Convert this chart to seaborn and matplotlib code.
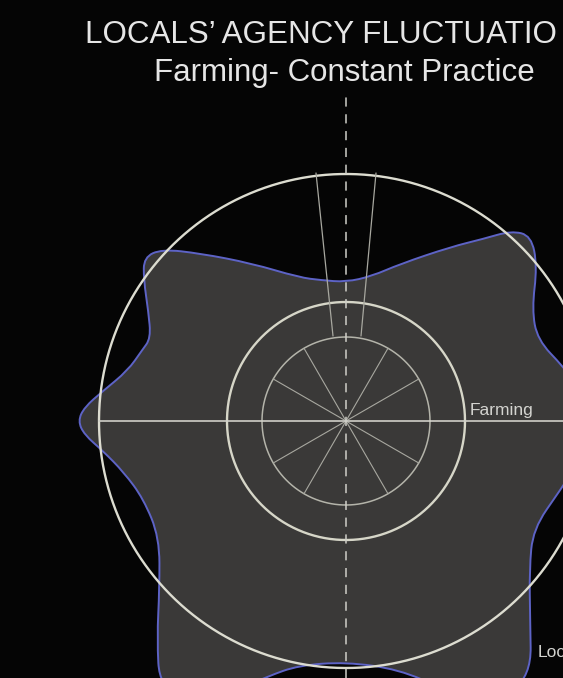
import numpy as np
import pandas as pd
import seaborn as sns
import matplotlib.pyplot as plt
from matplotlib.path import Path
from matplotlib.patches import PathPatch

# ---- data (radius in px from the centre, angle in deg) ----
blob_angle = [0, 8, 14, 23, 31, 39, 45, 49, 53, 59, 71, 80, 90, 100, 108, 121, 131,
              137, 141, 145, 151, 157, 161, 167, 173, 177, 180, 183, 187, 193, 201,
              212, 222, 229, 235, 242, 248, 253, 259, 270, 282, 290, 298, 306, 313,
              321, 330, 342, 352]
blob_radius = [250, 236, 224, 208, 217, 246, 262, 252, 228, 203, 166, 147, 139, 143, 151,
               184, 222, 252, 260, 247, 226, 212, 216, 224, 245, 262, 268, 262, 245, 228,
               217, 220, 251, 288, 325, 320, 290, 267, 249, 241, 254, 285, 320, 315, 270,
               236, 216, 225, 240]

ring_names = ['outer', 'middle', 'inner']
ring_radius = [247, 119, 84]
spoke_angles = [30, 60, 120, 150, 210, 240, 300, 330]

# the title is cropped at the right edge in the picture
title = 'LOCALS\u2019 AGENCY FLUCTUATIO'
subtitle = 'Farming- Constant Practice'
axis_labels = ['Farming', 'Locals']

sns.set_theme(style='dark', rc={'axes.facecolor': '#050505', 'figure.facecolor': '#050505'})
plt.rcParams['font.family'] = ['Liberation Sans', 'DejaVu Sans']

fig = plt.figure(figsize=(5.63, 6.78), dpi=100)
ax = fig.add_axes([0, 0, 1, 1])
ax.set_xlim(-346, 217)
ax.set_ylim(-257, 421)
ax.axis('off')

# blob: smooth closed outline through the read points
th = np.deg2rad(blob_angle)
P = np.column_stack([np.array(blob_radius) * np.cos(th), np.array(blob_radius) * np.sin(th)])
M = (P + np.roll(P, -1, axis=0)) / 2
verts = [M[-1]]
codes = [Path.MOVETO]
for i in range(len(P)):
    verts += [P[i], M[i]]
    codes += [Path.CURVE3, Path.CURVE3]
verts.append(M[-1])
codes.append(Path.CLOSEPOLY)
ax.add_patch(PathPatch(Path(verts, codes), facecolor='#3a3938', edgecolor='#5d63c6',
                       lw=1.4, zorder=1))

# rings
t = np.linspace(0, 2 * np.pi, 400)
rings = pd.concat([pd.DataFrame({'ring': n, 'x': r * np.cos(t), 'y': r * np.sin(t)})
                   for n, r in zip(ring_names, ring_radius)])
sns.lineplot(data=rings, x='x', y='y', hue='ring', units='ring', estimator=None, sort=False,
             palette={'outer': '#dcdcd0', 'middle': '#d6d6c8', 'inner': '#b4b4aa'},
             linewidth=1.7, legend=False, ax=ax, zorder=3)
ax.lines[-1].set_linewidth(1.1)

# spokes inside the inner ring
for a in spoke_angles:
    ax.plot([0, ring_radius[2] * np.cos(np.deg2rad(a))],
            [0, ring_radius[2] * np.sin(np.deg2rad(a))], color='#a8a8a0', lw=0.8, zorder=3)

# axes lines
ax.plot([-ring_radius[0], 217], [0, 0], color='#cfcfc8', lw=1.2, zorder=3)
ax.plot([0, 0], [-257, 326], color='#cfcfc8', lw=1.1, ls=(0, (6, 5)), zorder=3)

# thin beam between inner and outer ring
ax.plot([-30, -13], [ring_radius[0] + 1, ring_radius[2] + 1], color='#a8a8a0', lw=0.9, zorder=3)
ax.plot([30, 15], [ring_radius[0] + 1, ring_radius[2] + 1], color='#a8a8a0', lw=0.9, zorder=3)

ax.text(124, 6, axis_labels[0], color='#d4d4d0', fontsize=12.5, zorder=4)
ax.text(192, -236, axis_labels[1], color='#d4d4d0', fontsize=12.5, zorder=4)

fig.text(85 / 563, 1 - 43 / 678, title, color='#e6e6e6', fontsize=22.6, va='baseline')
fig.text(344 / 563, 1 - 81 / 678, subtitle, color='#e6e6e6', fontsize=22.5, va='baseline',
         ha='center')

fig.savefig('out.png', dpi=100, facecolor=fig.get_facecolor())
plt.close()
